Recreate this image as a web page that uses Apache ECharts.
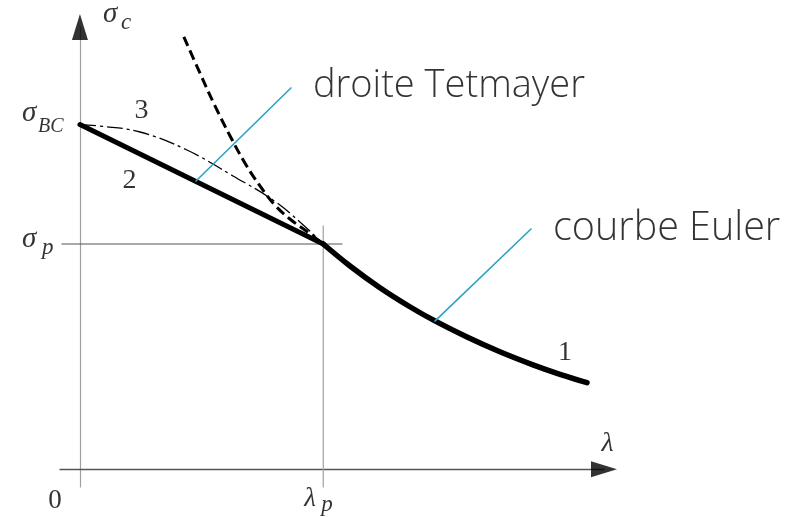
<!DOCTYPE html>
<html>
<head>
<meta charset="utf-8">
<script src="https://cdn.jsdelivr.net/npm/echarts@6/dist/echarts.min.js"></script>
<style>
  html, body { margin: 0; padding: 0; background: #fff; }
  #chart { width: 806px; height: 517px; }
</style>
</head>
<body>
<div id="chart"></div>
<script>
// Axis extents: slenderness λ and critical stress σc (MPa)
const lambdaRange = [-8.2, 215.4];
const sigmaRange = [-15.7, 392.6];

// Characteristic values
const lambdaP = 100;
const sigmaP = 200;
const sigmaBC = 306;

// 2 — Tetmayer straight line from σBC down to (λp, σp)
const tetmayer = [[0, 306], [100, 200]];
// 1 — Euler curve beyond λp
const euler = [[100, 200], [111.0, 180.5], [123.3, 161.2], [135.6, 144.3], [145.9, 131.7],
               [159.1, 117.4], [172.6, 104.3], [186.2, 92.7], [197.3, 84.3], [208.4, 76.9]];
// Euler hyperbola continued below λp (not valid there, dashed)
const eulerExt = [[42.7, 383.9], [49.3, 351.8], [55.5, 322.5], [61.7, 295.9], [67.8, 271.9],
                  [74.0, 251.5], [80.1, 234.6], [86.3, 222.2], [93.3, 211.1], [100, 200]];
// 3 — parabolic transition curve
const parabola = [[0, 306], [8.2, 304.7], [24.7, 299.4], [44.0, 283.4], [62.9, 260.4],
                  [79.3, 239.1], [90.4, 219.6], [100, 200]];
// Leader lines: point on the curve → callout text
const tetmayerLeader = [[47.7, 255.9], [86.7, 338.5]];
const eulerLeader = [[145.9, 131.6], [185.4, 213.3]];

// Texts
const curveNames = ['droite Tetmayer', 'courbe Euler'];
const curveNumbers = ['1', '2', '3'];

const SERIF = '"Liberation Serif", "DejaVu Serif", serif';
const SANS = '"Open Sans", "Liberation Sans", sans-serif';

function txt(value, text, dx, dy, opts) {
  opts = opts || {};
  return {
    value: value,
    label: {
      show: true,
      formatter: text,
      position: 'inside',
      align: opts.align || 'left',
      verticalAlign: 'middle',
      offset: [dx, dy],
      fontFamily: opts.family || SERIF,
      fontStyle: opts.italic ? 'italic' : 'normal',
      fontWeight: opts.weight || 'normal',
      fontSize: opts.size || 26,
      color: '#000'
    }
  };
}

const last = a => a[a.length - 1];

const labels = [
  // σc at the top of the ordinate
  txt([0, sigmaRange[1]], 'σ', 23, -13, { italic: true, size: 29 }),
  txt([0, sigmaRange[1]], 'c', 41, -4, { italic: true, size: 23 }),
  // σBC
  txt([0, sigmaBC], 'σ', -58, -11, { italic: true, size: 29 }),
  txt([0, sigmaBC], 'BC', -42, 2, { italic: true, size: 20 }),
  // σp
  txt([0, sigmaP], 'σ', -58, -5, { italic: true, size: 29 }),
  txt([0, sigmaP], 'p', -38, 4, { italic: true, size: 23 }),
  // λp
  txt([lambdaP, 0], 'λ', -19, 30, { italic: true, size: 27 }),
  txt([lambdaP, 0], 'p', -2, 36, { italic: true, size: 23 }),
  // origin and abscissa name
  txt([0, 0], '0', -25, 32, { align: 'center', size: 27 }),
  txt([lambdaRange[1], 0], 'λ', 3.5, -26, { italic: true, align: 'center', size: 28 }),
  // curve numbers
  txt(last(euler), curveNumbers[0], -22, -30, { align: 'center', size: 28 }),
  txt(tetmayer[0], curveNumbers[1], 49.5, 56, { align: 'center', size: 28 }),
  txt(parabola[2], curveNumbers[2], 1.5, -21, { align: 'center', size: 28 }),
  // callouts
  txt(last(tetmayerLeader), curveNames[0], 22, -1.5, { family: SANS, weight: 300, size: 38 }),
  txt(last(eulerLeader), curveNames[1], 22, -0.5, { family: SANS, weight: 300, size: 39.5 })
];

function line(data, style, smooth) {
  return {
    type: 'line',
    data: data,
    symbol: 'none',
    smooth: smooth || false,
    clip: false,
    silent: true,
    lineStyle: Object.assign({ color: '#000', width: 1, cap: 'round', join: 'round' }, style),
    z: 3
  };
}

const chart = echarts.init(document.getElementById('chart'), null, { renderer: 'canvas' });

chart.setOption({
  animation: false,
  backgroundColor: '#fff',
  grid: { left: 60, right: 202, top: 27, bottom: 30 },
  xAxis: {
    type: 'value',
    min: lambdaRange[0],
    max: lambdaRange[1],
    axisLine: { onZero: true, lineStyle: { color: '#555', width: 1.3 } },
    axisTick: { show: false },
    axisLabel: { show: false },
    splitLine: { show: false }
  },
  yAxis: {
    type: 'value',
    min: sigmaRange[0],
    max: sigmaRange[1],
    axisLine: { onZero: true, lineStyle: { color: '#a0a0a0', width: 1.2 } },
    axisTick: { show: false },
    axisLabel: { show: false },
    splitLine: { show: false }
  },
  series: [
    // reference lines through (λp, σp)
    line([[-7.4, sigmaP], [107.7, sigmaP]], { color: '#555', width: 1.2 }),
    line([[lambdaP, 216], [lambdaP, sigmaRange[0]]], { color: '#a0a0a0', width: 1.2 }),
    // 3 — parabola (dash-dot)
    line(parabola, { width: 1.3, type: [16, 4, 3, 4], cap: 'butt' }, 0.4),
    // Euler hyperbola continued (dashed)
    line(eulerExt, { width: 3, type: [10, 5], cap: 'butt' }, 0.4),
    // 2 — Tetmayer line and 1 — Euler curve
    line(tetmayer, { width: 5 }),
    line(euler, { width: 5.5 }, 0.4),
    // leaders
    line(tetmayerLeader, { color: '#2aa4c2', width: 1.6 }),
    line(eulerLeader, { color: '#2aa4c2', width: 1.6 }),
    // axis arrows
    {
      type: 'scatter', silent: true, clip: false, z: 5,
      symbol: 'triangle', symbolSize: [16, 26],
      itemStyle: { color: '#000' },
      data: [
        { value: [lambdaRange[1], 0], symbolRotate: -90 },
        { value: [0, sigmaRange[1]], symbolRotate: 0 }
      ]
    },
    // texts
    {
      type: 'scatter', silent: true, clip: false, z: 6,
      symbolSize: 1,
      itemStyle: { color: 'rgba(0,0,0,0)' },
      data: labels
    }
  ]
});
</script>
</body>
</html>
